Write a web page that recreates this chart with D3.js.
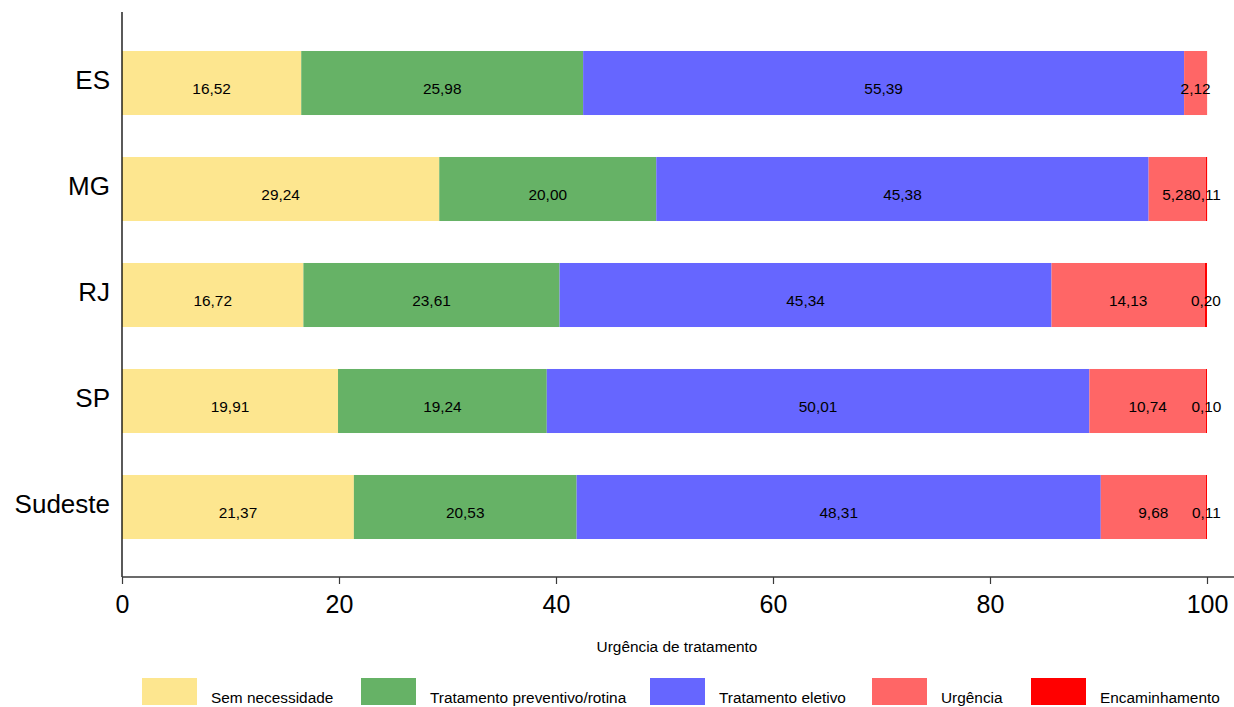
<!DOCTYPE html>
<html><head><meta charset="utf-8">
<script src="https://cdn.jsdelivr.net/npm/d3@7"></script>
<style>body{margin:0;background:#fff}svg{display:block;font-family:Arial,"Liberation Sans",sans-serif}</style>
</head><body>
<svg id="c" width="1234" height="707"></svg>
<script>
const regions = ["ES","MG","RJ","SP","Sudeste"];
const seriesNames = ["Sem necessidade","Tratamento preventivo/rotina","Tratamento eletivo","Urgência","Encaminhamento"];
const semNecessidade = [16.52,29.24,16.72,19.91,21.37];
const preventivo = [25.98,20.00,23.61,19.24,20.53];
const eletivo = [55.39,45.38,45.34,50.01,48.31];
const urgencia = [2.12,5.28,14.13,10.74,9.68];
const encaminhamento = [0,0.11,0.20,0.10,0.11];
const xTicks = [0,20,40,60,80,100];
const colors = ["#FDE68F","#66B266","#6666FF","#FF6666","#FF0000"];

const seriesVals = [semNecessidade,preventivo,eletivo,urgencia,encaminhamento];
const rows = regions.map((r,i)=>{const o={region:r}; seriesNames.forEach((s,j)=>o[s]=seriesVals[j][i]); return o;});
const stack = d3.stack().keys(seriesNames)(rows);

const svg = d3.select("#c");
const x = d3.scaleLinear().domain([0,100]).range([122,1207]);
const y = d3.scaleBand().domain(regions).range([30,560]).paddingInner(0.396).paddingOuter(0.198);
const color = d3.scaleOrdinal().domain(seriesNames).range(colors);
const fmt = v => d3.format(".2f")(v).replace(".",",");

const g = svg.append("g");
stack.forEach(layer=>{
  const lg = g.append("g");
  lg.selectAll("rect").data(layer).join("rect")
    .attr("x",d=>x(d[0])).attr("width",d=>x(d[1])-x(d[0]))
    .attr("y",d=>y(d.data.region)).attr("height",y.bandwidth())
    .attr("fill",color(layer.key));
});
stack.forEach(layer=>{
  g.append("g").selectAll("text").data(layer.filter(d=>d[1]-d[0]>0)).join("text")
    .attr("x",d=>x((d[0]+d[1])/2)).attr("y",d=>y(d.data.region)+y.bandwidth()/2+11)
    .attr("text-anchor","middle")
    .attr("font-size",15.4).attr("fill","#000")
    .text(d=>fmt(d[1]-d[0]));
});

// y axis
svg.append("line").attr("x1",122).attr("x2",122).attr("y1",12).attr("y2",577).attr("stroke","#000").attr("stroke-width",1.3);
svg.append("g").selectAll("text").data(regions).join("text")
  .attr("x",110).attr("y",d=>y(d)+y.bandwidth()/2+6)
  .attr("text-anchor","end")
  .attr("font-size",26).attr("fill","#000").text(d=>d);

// x axis
const xa = svg.append("g").attr("transform","translate(0,577)")
  .call(d3.axisBottom(x).tickValues(xTicks).tickSize(7).tickPadding(11).tickFormat(d3.format("d")));
xa.select(".domain").remove();
xa.append("line").attr("x1",122).attr("x2",1234).attr("stroke","#3a3a3a").attr("stroke-width",1.5);
xa.selectAll(".tick line").attr("stroke","#3a3a3a").attr("stroke-width",1.2);
xa.selectAll(".tick text").attr("font-size",25).attr("fill","#000").attr("font-family","Arial,'Liberation Sans',sans-serif");

svg.append("text").attr("x",677).attr("y",652).attr("text-anchor","middle")
  .attr("font-size",15.4).attr("fill","#000").text("Urgência de tratamento");

// legend
const legX = [142,361,650,872,1031];
const lg = svg.append("g").selectAll("g").data(seriesNames).join("g")
  .attr("transform",(d,i)=>`translate(${legX[i]},678)`);
lg.append("rect").attr("width",55).attr("height",27).attr("fill",d=>color(d));
lg.append("text").attr("x",69).attr("y",25)
  .attr("font-size",15.4).attr("fill","#000").text(d=>d);
</script>
</body></html>
